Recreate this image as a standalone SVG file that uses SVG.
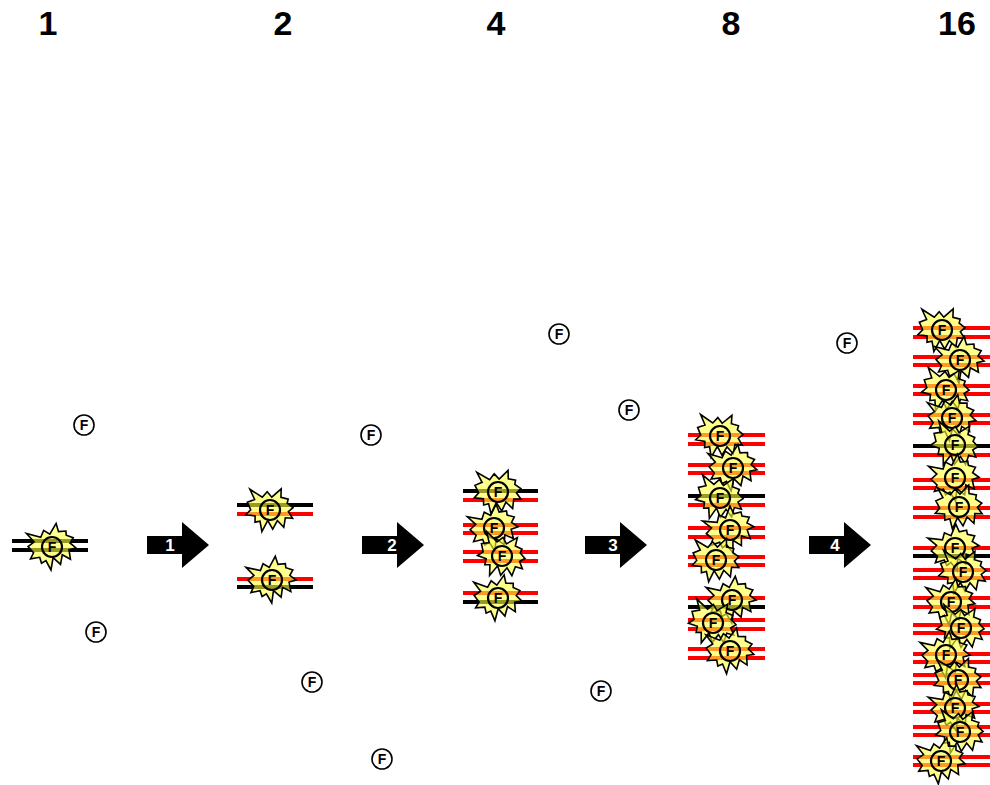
<svg xmlns="http://www.w3.org/2000/svg" xmlns:xlink="http://www.w3.org/1999/xlink" width="990" height="785" viewBox="0 0 990 785">
  <style>
    .count { font-family: "Liberation Sans", Arial, sans-serif; font-weight: bold; font-size: 34px; fill: #000; text-anchor: middle; }
    .step { font-family: "Liberation Sans", Arial, sans-serif; font-weight: bold; font-size: 17px; fill: #fff; text-anchor: middle; }
    .tag { font-family: "Liberation Sans", Arial, sans-serif; font-weight: bold; font-size: 14px; fill: #000; text-anchor: middle; }
    .old { stroke: #000; stroke-width: 4; }
    .new { stroke: #ff0000; stroke-width: 4; }
    .burst { fill: #ffff40; fill-opacity: 0.6; stroke: #000; stroke-width: 1.5; stroke-linejoin: miter; }
    .ring { fill: none; stroke: #000; stroke-width: 2.2; }
    .free { fill: #fff; stroke: #000; stroke-width: 1.6; }
    .arrow { fill: #000; }
  </style>
  <defs>
    <!-- explosion-shaped glow around a bound probe -->
    <path id="burst" class="burst" transform="scale(1.07)" d="M0,-12.1 L7.6,-21 L8.5,-13.1 L15.4,-12.4 L15,-8.5 L21,-5.1 L17.2,-0.8 L22,4.8 L15.2,5.2 L15,14.2 L8.2,8.8 L5,17.4 L-0.7,10 L-4.7,21 L-7.8,11.6 L-12.3,13.2 L-13,7.5 L-21.7,7.4 L-17.9,2.3 L-22,-4.3 L-15.6,-7.7 L-21.3,-16.6 L-8.8,-10.8 L-5,-16.6 Z"/>
    <g id="mark">
      <circle class="ring" r="10"/>
      <text class="tag" y="5">F</text>
    </g>
    <g id="freeprobe">
      <circle class="free" r="10"/>
      <text class="tag" y="5">F</text>
    </g>
    <polygon id="arrow" class="arrow" points="0,0 35,0 35,-14 62,9 35,32 35,18 0,18"/>
  </defs>

  <!-- copy counts per cycle -->
  <g id="counts">
    <text class="count" x="48" y="35">1</text>
    <text class="count" x="283" y="35">2</text>
    <text class="count" x="496" y="35">4</text>
    <text class="count" x="731" y="35">8</text>
    <text class="count" x="957" y="35">16</text>
  </g>

  <!-- unbound probes in solution -->
  <g id="free-probes">
    <use xlink:href="#freeprobe" x="84" y="425"/>
    <use xlink:href="#freeprobe" x="96" y="632"/>
    <use xlink:href="#freeprobe" x="371" y="435"/>
    <use xlink:href="#freeprobe" x="312" y="682"/>
    <use xlink:href="#freeprobe" x="382" y="759"/>
    <use xlink:href="#freeprobe" x="559" y="334"/>
    <use xlink:href="#freeprobe" x="629" y="410"/>
    <use xlink:href="#freeprobe" x="601" y="691"/>
    <use xlink:href="#freeprobe" x="847" y="343"/>
  </g>

  <!-- cycle 0: single template -->
  <g id="stage-1">
    <g class="strands">
      <line class="old" x1="12" y1="541" x2="88" y2="541"/>
      <line class="old" x1="12" y1="550" x2="88" y2="550"/>
    </g>
    <use xlink:href="#burst" transform="translate(52,547) rotate(-10)"/>
    <use xlink:href="#mark" x="52" y="547"/>
  </g>

  <!-- cycle 1 -->
  <g id="stage-2">
    <g class="strands">
      <line class="old" x1="237" y1="505" x2="313" y2="505"/>
      <line class="new" x1="237" y1="514" x2="313" y2="514"/>
      <line class="new" x1="237" y1="579" x2="313" y2="579"/>
      <line class="old" x1="237" y1="587" x2="313" y2="587"/>
    </g>
    <use xlink:href="#burst" transform="translate(270,510) rotate(8)"/>
    <use xlink:href="#mark" x="270" y="510"/>
    <use xlink:href="#burst" transform="translate(272,580) rotate(-12)"/>
    <use xlink:href="#mark" x="272" y="580"/>
  </g>

  <!-- cycle 2 -->
  <g id="stage-4">
    <g class="strands">
      <line class="old" x1="463" y1="491" x2="538" y2="491"/>
      <line class="new" x1="463" y1="500" x2="538" y2="500"/>
      <line class="new" x1="463" y1="525" x2="538" y2="525"/>
      <line class="new" x1="463" y1="533" x2="538" y2="533"/>
      <line class="new" x1="463" y1="552" x2="538" y2="552"/>
      <line class="new" x1="463" y1="561" x2="538" y2="561"/>
      <line class="new" x1="463" y1="593" x2="538" y2="593"/>
      <line class="old" x1="463" y1="602" x2="538" y2="602"/>
    </g>
    <use xlink:href="#burst" transform="translate(498,492) rotate(5)"/>
    <use xlink:href="#mark" x="498" y="492"/>
    <use xlink:href="#burst" transform="translate(494,528) rotate(-15)"/>
    <use xlink:href="#mark" x="494" y="528"/>
    <use xlink:href="#burst" transform="translate(502,556) rotate(20)"/>
    <use xlink:href="#mark" x="502" y="556"/>
    <use xlink:href="#burst" transform="translate(498,598) rotate(-5)"/>
    <use xlink:href="#mark" x="498" y="598"/>
  </g>

  <!-- cycle 3 -->
  <g id="stage-8">
    <g class="strands">
      <line class="new" x1="688" y1="435" x2="765" y2="435"/>
      <line class="new" x1="688" y1="444" x2="765" y2="444"/>
      <line class="new" x1="688" y1="465" x2="765" y2="465"/>
      <line class="new" x1="688" y1="473" x2="765" y2="473"/>
      <line class="old" x1="688" y1="496" x2="765" y2="496"/>
      <line class="new" x1="688" y1="505" x2="765" y2="505"/>
      <line class="new" x1="688" y1="528" x2="765" y2="528"/>
      <line class="new" x1="688" y1="537" x2="765" y2="537"/>
      <line class="new" x1="688" y1="557" x2="765" y2="557"/>
      <line class="new" x1="688" y1="565" x2="765" y2="565"/>
      <line class="new" x1="688" y1="598" x2="765" y2="598"/>
      <line class="old" x1="688" y1="607" x2="765" y2="607"/>
      <line class="new" x1="688" y1="620" x2="765" y2="620"/>
      <line class="new" x1="688" y1="629" x2="765" y2="629"/>
      <line class="new" x1="688" y1="649" x2="765" y2="649"/>
      <line class="new" x1="688" y1="658" x2="765" y2="658"/>
    </g>
    <use xlink:href="#burst" transform="translate(720,436) rotate(10)"/>
    <use xlink:href="#mark" x="720" y="436"/>
    <use xlink:href="#burst" transform="translate(733,468) rotate(-8)"/>
    <use xlink:href="#mark" x="733" y="468"/>
    <use xlink:href="#burst" transform="translate(720,498) rotate(15)"/>
    <use xlink:href="#mark" x="720" y="498"/>
    <use xlink:href="#burst" transform="translate(730,530) rotate(-20)"/>
    <use xlink:href="#mark" x="730" y="530"/>
    <use xlink:href="#burst" transform="translate(716,560) rotate(6)"/>
    <use xlink:href="#mark" x="716" y="560"/>
    <use xlink:href="#burst" transform="translate(732,600) rotate(-12)"/>
    <use xlink:href="#mark" x="732" y="600"/>
    <use xlink:href="#burst" transform="translate(713,623) rotate(18)"/>
    <use xlink:href="#mark" x="713" y="623"/>
    <use xlink:href="#burst" transform="translate(730,651) rotate(-4)"/>
    <use xlink:href="#mark" x="730" y="651"/>
  </g>

  <!-- cycle 4 -->
  <g id="stage-16">
    <g class="strands">
      <line class="new" x1="913" y1="328" x2="990" y2="328"/>
      <line class="new" x1="913" y1="337" x2="990" y2="337"/>
      <line class="new" x1="913" y1="357" x2="990" y2="357"/>
      <line class="new" x1="913" y1="365" x2="990" y2="365"/>
      <line class="new" x1="913" y1="386" x2="990" y2="386"/>
      <line class="new" x1="913" y1="394" x2="990" y2="394"/>
      <line class="new" x1="913" y1="415" x2="990" y2="415"/>
      <line class="new" x1="913" y1="423" x2="990" y2="423"/>
      <line class="old" x1="913" y1="446" x2="990" y2="446"/>
      <line class="new" x1="913" y1="455" x2="990" y2="455"/>
      <line class="new" x1="913" y1="480" x2="990" y2="480"/>
      <line class="new" x1="913" y1="488" x2="990" y2="488"/>
      <line class="new" x1="913" y1="508" x2="990" y2="508"/>
      <line class="new" x1="913" y1="517" x2="990" y2="517"/>
      <line class="new" x1="913" y1="548" x2="990" y2="548"/>
      <line class="old" x1="913" y1="556" x2="990" y2="556"/>
      <line class="new" x1="913" y1="570" x2="990" y2="570"/>
      <line class="new" x1="913" y1="578" x2="990" y2="578"/>
      <line class="new" x1="913" y1="598" x2="990" y2="598"/>
      <line class="new" x1="913" y1="607" x2="990" y2="607"/>
      <line class="new" x1="913" y1="625" x2="990" y2="625"/>
      <line class="new" x1="913" y1="633" x2="990" y2="633"/>
      <line class="new" x1="913" y1="654" x2="990" y2="654"/>
      <line class="new" x1="913" y1="662" x2="990" y2="662"/>
      <line class="new" x1="913" y1="675" x2="990" y2="675"/>
      <line class="new" x1="913" y1="683" x2="990" y2="683"/>
      <line class="new" x1="913" y1="704" x2="990" y2="704"/>
      <line class="new" x1="913" y1="712" x2="990" y2="712"/>
      <line class="new" x1="913" y1="727" x2="990" y2="727"/>
      <line class="new" x1="913" y1="735" x2="990" y2="735"/>
      <line class="new" x1="913" y1="757" x2="990" y2="757"/>
      <line class="new" x1="913" y1="765" x2="990" y2="765"/>
    </g>
    <use xlink:href="#burst" transform="translate(942,330) rotate(8)"/>
    <use xlink:href="#mark" x="942" y="330"/>
    <use xlink:href="#burst" transform="translate(960,360) rotate(-10)"/>
    <use xlink:href="#mark" x="960" y="360"/>
    <use xlink:href="#burst" transform="translate(946,390) rotate(14)"/>
    <use xlink:href="#mark" x="946" y="390"/>
    <use xlink:href="#burst" transform="translate(952,418) rotate(-6)"/>
    <use xlink:href="#mark" x="952" y="418"/>
    <use xlink:href="#burst" transform="translate(955,445) rotate(18)"/>
    <use xlink:href="#mark" x="955" y="445"/>
    <use xlink:href="#burst" transform="translate(955,478) rotate(-14)"/>
    <use xlink:href="#mark" x="955" y="478"/>
    <use xlink:href="#burst" transform="translate(959,507) rotate(4)"/>
    <use xlink:href="#mark" x="959" y="507"/>
    <use xlink:href="#burst" transform="translate(955,548) rotate(-18)"/>
    <use xlink:href="#mark" x="955" y="548"/>
    <use xlink:href="#burst" transform="translate(963,572) rotate(10)"/>
    <use xlink:href="#mark" x="963" y="572"/>
    <use xlink:href="#burst" transform="translate(951,602) rotate(-8)"/>
    <use xlink:href="#mark" x="951" y="602"/>
    <use xlink:href="#burst" transform="translate(961,628) rotate(16)"/>
    <use xlink:href="#mark" x="961" y="628"/>
    <use xlink:href="#burst" transform="translate(946,655) rotate(-12)"/>
    <use xlink:href="#mark" x="946" y="655"/>
    <use xlink:href="#burst" transform="translate(958,680) rotate(6)"/>
    <use xlink:href="#mark" x="958" y="680"/>
    <use xlink:href="#burst" transform="translate(955,708) rotate(-16)"/>
    <use xlink:href="#mark" x="955" y="708"/>
    <use xlink:href="#burst" transform="translate(960,732) rotate(12)"/>
    <use xlink:href="#mark" x="960" y="732"/>
    <use xlink:href="#burst" transform="translate(941,761) rotate(-6)"/>
    <use xlink:href="#mark" x="941" y="761"/>
  </g>

  <!-- cycle arrows -->
  <g id="connectors">
    <g id="cycle-1">
      <use xlink:href="#arrow" x="147" y="536"/>
      <text class="step" x="170" y="551">1</text>
    </g>
    <g id="cycle-2">
      <use xlink:href="#arrow" x="362" y="536"/>
      <text class="step" x="392" y="551">2</text>
    </g>
    <g id="cycle-3">
      <use xlink:href="#arrow" x="585" y="536"/>
      <text class="step" x="613" y="551">3</text>
    </g>
    <g id="cycle-4">
      <use xlink:href="#arrow" x="809" y="536"/>
      <text class="step" x="835" y="551">4</text>
    </g>
  </g>
</svg>
